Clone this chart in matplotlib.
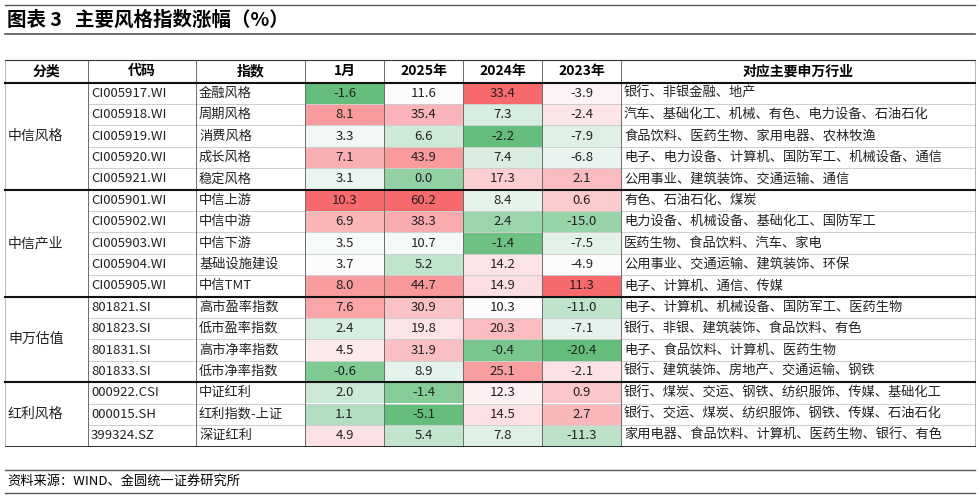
import numpy as np
import matplotlib.pyplot as plt
from matplotlib.patches import Rectangle

plt.rcParams['font.family'] = ['Noto Sans CJK SC', 'DejaVu Sans']

groups = ['中信风格', '中信产业', '申万估值', '红利风格']
group_sizes = [5, 5, 4, 3]
codes = ['CI005917.WI', 'CI005918.WI', 'CI005919.WI', 'CI005920.WI', 'CI005921.WI',
         'CI005901.WI', 'CI005902.WI', 'CI005903.WI', 'CI005904.WI', 'CI005905.WI',
         '801821.SI', '801823.SI', '801831.SI', '801833.SI',
         '000922.CSI', '000015.SH', '399324.SZ']
names = ['金融风格', '周期风格', '消费风格', '成长风格', '稳定风格',
         '中信上游', '中信中游', '中信下游', '基础设施建设', '中信TMT',
         '高市盈率指数', '低市盈率指数', '高市净率指数', '低市净率指数',
         '中证红利', '红利指数-上证', '深证红利']
jan = [-1.6, 8.1, 3.3, 7.1, 3.1, 10.3, 6.9, 3.5, 3.7, 8.0, 7.6, 2.4, 4.5, -0.6, 2.0, 1.1, 4.9]
y2025 = [11.6, 35.4, 6.6, 43.9, 0.0, 60.2, 38.3, 10.7, 5.2, 44.7, 30.9, 19.8, 31.9, 8.9, -1.4, -5.1, 5.4]
y2024 = [33.4, 7.3, -2.2, 7.4, 17.3, 8.4, 2.4, -1.4, 14.2, 14.9, 10.3, 20.3, -0.4, 25.1, 12.3, 14.5, 7.8]
y2023 = [-3.9, -2.4, -7.9, -6.8, 2.1, 0.6, -15.0, -7.5, -4.9, 11.3, -11.0, -7.1, -20.4, -2.1, 0.9, 2.7, -11.3]
industries = ['银行、非银金融、地产', '汽车、基础化工、机械、有色、电力设备、石油石化',
              '食品饮料、医药生物、家用电器、农林牧渔', '电子、电力设备、计算机、国防军工、机械设备、通信',
              '公用事业、建筑装饰、交通运输、通信', '有色、石油石化、煤炭', '电力设备、机械设备、基础化工、国防军工',
              '医药生物、食品饮料、汽车、家电', '公用事业、交通运输、建筑装饰、环保', '电子、计算机、通信、传媒',
              '电子、计算机、机械设备、国防军工、医药生物', '银行、非银、建筑装饰、食品饮料、有色',
              '电子、食品饮料、计算机、医药生物', '银行、建筑装饰、房地产、交通运输、钢铁',
              '银行、煤炭、交运、钢铁、纺织服饰、传媒、基础化工', '银行、交运、煤炭、纺织服饰、钢铁、传媒、石油石化',
              '家用电器、食品饮料、计算机、医药生物、银行、有色']
headers = ['分类', '代码', '指数', '1月', '2025年', '2024年', '2023年', '对应主要申万行业']

GREEN = np.array([0x63, 0xBE, 0x7B]) / 255
WHITE = np.array([0xFC, 0xFC, 0xFF]) / 255
RED = np.array([0xF8, 0x69, 0x6B]) / 255


def scale_color(v, vals):
    lo, mid, hi = min(vals), np.percentile(vals, 50), max(vals)
    if v <= mid:
        t = (v - lo) / (mid - lo) if mid > lo else 1
        return GREEN + (WHITE - GREEN) * t
    t = (v - mid) / (hi - mid) if hi > mid else 0
    return WHITE + (RED - WHITE) * t


fig = plt.figure(figsize=(9.8, 4.99), dpi=100)
ax = fig.add_axes([0, 0, 1, 1])
ax.set_xlim(0, 980)
ax.set_ylim(499, 0)
ax.axis('off')

# title
ax.plot([5, 975], [5, 5], color='#555555', lw=1)
ax.text(7, 20, '图表 3   主要风格指数涨幅（%）', fontsize=14, fontweight='bold', va='center')
ax.plot([5, 975], [34, 34], color='#555555', lw=1.2)

xs = [5, 88, 196, 305, 384, 463, 542, 621, 975]
top, row_h, head_h = 60, 21.4, 22.5
y0 = top + head_h
n = len(codes)

for j, h in enumerate(headers):
    ax.text((xs[j] + xs[j + 1]) / 2, top + head_h / 2, h, fontsize=10, fontweight='bold',
            ha='center', va='center')

cols = [jan, y2025, y2024, y2023]
for i in range(n):
    yc = y0 + row_h * (i + 0.5)
    for k, col in enumerate(cols):
        ax.add_patch(Rectangle((xs[3 + k], y0 + row_h * i), xs[4 + k] - xs[3 + k], row_h,
                               facecolor=scale_color(col[i], col), edgecolor='white', lw=0.6))
        ax.text((xs[3 + k] + xs[4 + k]) / 2, yc, f'{col[i]:.1f}', fontsize=9.5,
                ha='center', va='center', color='#222222')
    ax.text(xs[1] + 3, yc, codes[i], fontsize=9.5, va='center', color='#222222')
    ax.text(xs[2] + 3, yc, names[i], fontsize=9.5, va='center', color='#222222')
    ax.text(xs[7] + 3, yc, industries[i], fontsize=9.5, va='center', color='#222222')

# grid lines
bottom = y0 + row_h * n
for i in range(n + 1):
    ax.plot([xs[1], xs[-1]], [y0 + row_h * i] * 2, color='#bbbbbb', lw=0.5)
for x in xs[1:-1]:
    ax.plot([x, x], [top, bottom], color='#555555', lw=0.6)
ax.plot([xs[0], xs[0]], [top, bottom], color='#999999', lw=0.5)
ax.plot([xs[-1], xs[-1]], [top, bottom], color='#999999', lw=0.5)
ax.plot([xs[0], xs[-1]], [top, top], color='#333333', lw=0.8)
ax.plot([xs[0], xs[-1]], [y0, y0], color='#111111', lw=1.5)

start = 0
for g, size in zip(groups, group_sizes):
    ax.text(xs[0] + 3, y0 + row_h * (start + size / 2), g, fontsize=10, va='center', color='#222222')
    start += size
    ax.plot([xs[0], xs[-1]], [y0 + row_h * start] * 2, color='#111111',
            lw=1.5 if start < n else 0.6)

# footer
ax.plot([5, 975], [470, 470], color='#555555', lw=1)
ax.text(7, 481, '资料来源：WIND、金圆统一证券研究所', fontsize=9.5, va='center')
ax.plot([5, 975], [493, 493], color='#555555', lw=1)

fig.savefig('out.png', dpi=100)
